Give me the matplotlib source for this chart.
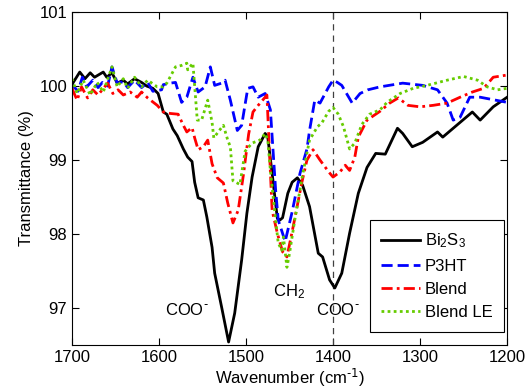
import numpy as np
from matplotlib import pyplot as plt

plt.rcParams['font.family'] = ['Liberation Sans', 'DejaVu Sans']
plt.rcParams['mathtext.default'] = 'regular'
plt.rcParams['font.size'] = 12

# Bi2S3
wn_bi = [1700, 1699, 1691, 1685, 1679, 1674, 1664, 1660, 1654, 1648, 1641, 1636, 1628, 1620,
         1614, 1607, 1601, 1595, 1591, 1584, 1579, 1572, 1567, 1562, 1559, 1555, 1549, 1545,
         1539, 1536, 1528, 1520, 1513, 1505, 1499, 1493, 1486, 1478, 1475, 1470, 1464, 1461,
         1458, 1452, 1447, 1441, 1435, 1427, 1417, 1412, 1404, 1398, 1390, 1381, 1371, 1361,
         1351, 1340, 1326, 1320, 1309, 1297, 1280, 1274, 1258, 1240, 1231, 1216, 1200]
t_bi = [99.95, 100.04, 100.19, 100.10, 100.18, 100.12, 100.19, 100.12, 100.18, 100.04, 100.08,
        100.03, 100.10, 100.05, 100.00, 99.97, 99.90, 99.65, 99.62, 99.42, 99.33, 99.15, 99.04,
        98.98, 98.70, 98.49, 98.46, 98.23, 97.82, 97.47, 97.01, 96.54, 96.93, 97.65, 98.28,
        98.77, 99.18, 99.36, 99.31, 98.82, 98.21, 98.19, 98.22, 98.55, 98.70, 98.76, 98.66,
        98.37, 97.74, 97.69, 97.38, 97.27, 97.47, 98.01, 98.55, 98.90, 99.09, 99.08, 99.43,
        99.36, 99.18, 99.24, 99.38, 99.31, 99.47, 99.65, 99.54, 99.72, 99.85]

# P3HT
wn_p3 = [1700, 1693, 1688, 1683, 1676, 1670, 1665, 1659, 1654, 1648, 1641, 1636, 1628, 1620,
         1613, 1607, 1597, 1595, 1587, 1581, 1574, 1568, 1561, 1555, 1547, 1541, 1536, 1528,
         1524, 1518, 1510, 1505, 1498, 1492, 1486, 1478, 1472, 1466, 1463, 1455, 1447, 1438,
         1430, 1427, 1421, 1415, 1405, 1400, 1395, 1390, 1378, 1369, 1360, 1346, 1320, 1297,
         1280, 1269, 1262, 1254, 1243, 1231, 1200]
t_p3 = [100.02, 99.93, 100.12, 99.99, 100.08, 99.98, 100.05, 100.00, 100.26, 100.04, 100.06,
        99.98, 100.08, 99.98, 100.05, 99.93, 99.95, 100.02, 100.04, 100.05, 99.78, 99.85,
        100.12, 99.92, 99.99, 100.26, 100.01, 100.04, 100.08, 99.81, 99.40, 99.47, 99.97,
        99.99, 99.85, 99.90, 99.68, 98.60, 98.19, 97.90, 98.30, 98.82, 99.15, 99.40, 99.81,
        99.77, 99.99, 100.08, 100.05, 100.01, 99.77, 99.90, 99.95, 99.99, 100.04, 100.01,
        99.95, 99.77, 99.54, 99.58, 99.85, 99.85, 99.78]

# Blend
wn_bl = [1700, 1694, 1689, 1682, 1676, 1670, 1659, 1653, 1647, 1641, 1633, 1625, 1620, 1613,
         1602, 1595, 1587, 1578, 1572, 1568, 1562, 1559, 1555, 1549, 1544, 1539, 1533, 1526,
         1521, 1515, 1509, 1503, 1497, 1492, 1486, 1478, 1476, 1470, 1464, 1458, 1453, 1446,
         1436, 1430, 1423, 1415, 1405, 1400, 1392, 1386, 1381, 1375, 1371, 1361, 1346, 1335,
         1325, 1314, 1300, 1285, 1269, 1254, 1240, 1227, 1216, 1200]
t_bl = [99.97, 99.81, 99.99, 99.84, 99.95, 99.88, 100.04, 99.90, 99.95, 99.88, 99.92, 99.85,
        99.92, 99.84, 99.74, 99.65, 99.63, 99.62, 99.47, 99.38, 99.44, 99.30, 99.14, 99.18,
        99.27, 98.95, 98.76, 98.69, 98.42, 98.15, 98.32, 98.80, 99.35, 99.65, 99.74, 99.85,
        99.88, 98.32, 98.01, 97.76, 97.69, 98.09, 98.69, 99.00, 99.14, 99.00, 98.84, 98.77,
        98.84, 98.93, 98.86, 99.04, 99.31, 99.54, 99.66, 99.77, 99.84, 99.74, 99.72, 99.74,
        99.77, 99.85, 99.92, 99.97, 100.12, 100.15]

# Blend LE
wn_le = [1700, 1694, 1687, 1679, 1671, 1664, 1654, 1648, 1641, 1636, 1628, 1620, 1613, 1602,
         1595, 1591, 1581, 1574, 1568, 1567, 1561, 1556, 1551, 1544, 1539, 1537, 1532, 1526,
         1521, 1518, 1515, 1507, 1501, 1493, 1484, 1478, 1475, 1472, 1466, 1463, 1459, 1457,
         1453, 1450, 1444, 1435, 1427, 1418, 1413, 1405, 1400, 1394, 1388, 1381, 1375, 1367,
         1358, 1346, 1338, 1323, 1308, 1292, 1269, 1250, 1234, 1223, 1211, 1200]
t_le = [100.10, 99.90, 100.08, 99.88, 100.05, 99.92, 100.26, 99.99, 100.10, 99.97, 100.12,
        99.99, 100.08, 99.99, 99.99, 100.04, 100.26, 100.28, 100.31, 100.22, 100.31, 99.54,
        99.54, 99.81, 99.51, 99.30, 99.38, 99.47, 99.27, 99.18, 98.72, 98.67, 99.12, 99.23,
        99.27, 99.36, 99.27, 98.86, 98.19, 97.88, 97.78, 97.96, 97.55, 97.74, 98.19, 98.80,
        99.27, 99.45, 99.50, 99.66, 99.71, 99.62, 99.45, 99.15, 99.23, 99.48, 99.62, 99.68,
        99.78, 99.90, 99.97, 100.01, 100.08, 100.13, 100.08, 99.99, 99.95, 99.97]

fig = plt.figure(figsize=(5.25, 3.92), dpi=100)
ax = fig.add_axes([0.137, 0.12, 0.829, 0.849])

ax.axvline(1400, color='0.25', ls=(0, (5, 4)), lw=0.9)
ax.plot(wn_bi, t_bi, color='k', lw=2, label='Bi$_2$S$_3$')
ax.plot(wn_p3, t_p3, color='b', lw=2, ls=(0, (4, 1.8)), label='P3HT')
ax.plot(wn_bl, t_bl, color='r', lw=2, ls=(0, (4, 1.5, 1, 1.5)), label='Blend')
ax.plot(wn_le, t_le, color='#66cc00', lw=2, ls=(0, (1, 1.2)), label='Blend LE')

ax.set_xlim(1700, 1200)
ax.set_ylim(96.5, 101)
ax.set_xticks([1700, 1600, 1500, 1400, 1300, 1200])
ax.set_yticks([97, 98, 99, 100, 101])
ax.tick_params(direction='in', top=True, right=True, length=5, labelsize=12)
ax.set_xlabel(r'Wavenumber (cm$^{\text{-1}}$)', fontsize=12, labelpad=1)
ax.set_ylabel('Transmittance (%)', fontsize=12)

ax.text(1568, 96.97, r'COO$^{\text{-}}$', ha='center', va='center', fontsize=12)
ax.text(1450, 97.22, 'CH$_2$', ha='center', va='center', fontsize=12)
ax.text(1395, 96.97, r'COO$^{\text{-}}$', ha='center', va='center', fontsize=12)

leg = ax.legend(loc='lower right', bbox_to_anchor=(0.993, 0.039), borderaxespad=0,
                fancybox=False, framealpha=1, edgecolor='k', handlelength=2.3,
                handletextpad=0.3, labelspacing=0.5, fontsize=12, borderpad=0.7)
leg.get_frame().set_linewidth(0.8)

plt.savefig('out.png', dpi=100)
